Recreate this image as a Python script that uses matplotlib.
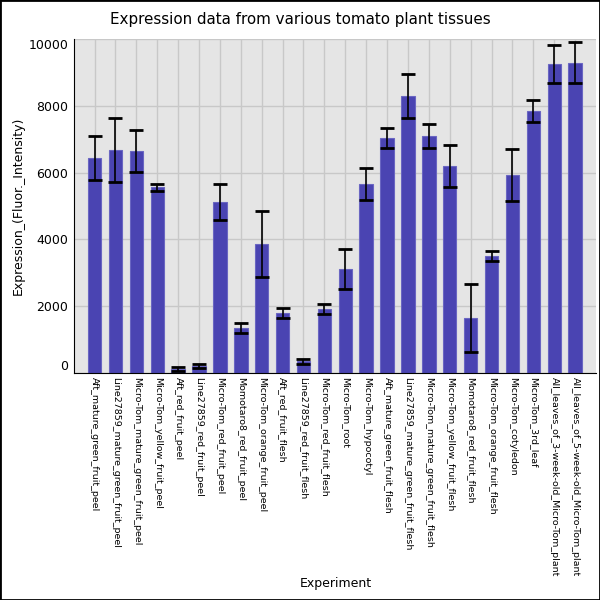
import numpy as np
import matplotlib.pyplot as plt
from matplotlib.patches import Rectangle

# Datos
experimentos = [
    'Aft_mature_green_fruit_peel', 'Line27859_mature_green_fruit_peel',
    'Micro-Tom_mature_green_fruit_peel', 'Micro-Tom_yellow_fruit_peel',
    'Aft_red_fruit_peel', 'Line27859_red_fruit_peel', 'Micro-Tom_red_fruit_peel',
    'Momotaro8_red_fruit_peel', 'Micro-Tom_orange_fruit_peel', 'Aft_red_fruit_flesh',
    'Line27859_red_fruit_flesh', 'Micro-Tom_red_fruit_flesh', 'Micro-Tom_root',
    'Micro-Tom_hypocotyl', 'Aft_mature_green_fruit_flesh',
    'Line27859_mature_green_fruit_flesh', 'Micro-Tom_mature_green_fruit_flesh',
    'Micro-Tom_yellow_fruit_flesh', 'Momotaro8_red_fruit_flesh',
    'Micro-Tom_orange_fruit_flesh', 'Micro-Tom_cotyledon', 'Micro-Tom_3rd_leaf',
    'All_leaves_of_3-week-old_Micro-Tom_plant', 'All_leaves_of_5-week-old_Micro-Tom_plant',
]
expresion = [6440, 6680, 6650, 5560, 100, 200, 5120, 1340, 3860, 1790,
             350, 1910, 3110, 5660, 7040, 8300, 7100, 6200, 1640, 3500,
             5930, 7850, 9260, 9290]
error = [645, 950, 615, 100, 60, 50, 550, 140, 980, 145,
         75, 140, 590, 470, 310, 665, 370, 620, 1030, 145,
         775, 340, 565, 615]

fig = plt.figure(figsize=(6, 6), dpi=100)
fig.patches.append(Rectangle((0, 0), 1, 1, transform=fig.transFigure,
                             fill=False, edgecolor='black', linewidth=2))
ax = fig.add_axes([0.1228, 0.3788, 0.8705, 0.5557])
ax.set_facecolor('#e5e5e5')

x = np.arange(len(experimentos))
ax.bar(x, expresion, width=0.64, color='#4a44b2', edgecolor='#6a66c2',
       linewidth=0.8, zorder=2)
ax.errorbar(x, expresion, yerr=error, fmt='none', ecolor='black',
            elinewidth=1.2, capsize=4.7, capthick=2, zorder=3)

ax.set_xlim(-1, len(experimentos))
ax.set_ylim(0, 10000)
ax.set_yticks([0, 2000, 4000, 6000, 8000, 10000])
ax.set_xticks(x)
ax.set_xticklabels(experimentos, rotation=270, fontsize=6.8)
ax.tick_params(axis='both', length=0)
ax.tick_params(axis='x', pad=3)
ax.tick_params(axis='y', labelsize=9, pad=4)
labs = ax.get_yticklabels()
labs[0].set_va('bottom')
labs[-1].set_va('top')

ax.grid(True, color='#c8c8c8', linewidth=1, zorder=0)
ax.set_axisbelow(True)
for s in ['top', 'right']:
    ax.spines[s].set_visible(False)
ax.spines['left'].set_color('black')
ax.spines['bottom'].set_color('black')

fig.text(0.5, 0.967, 'Expression data from various tomato plant tissues',
         ha='center', va='center', fontsize=10.9)
fig.text(0.03, 0.6567, 'Expression_(Fluor._Intensity)', rotation=90,
         ha='center', va='center', fontsize=9)
fig.text(0.56, 0.027, 'Experiment', ha='center', va='center', fontsize=9)

plt.savefig('out.png', dpi=100)
